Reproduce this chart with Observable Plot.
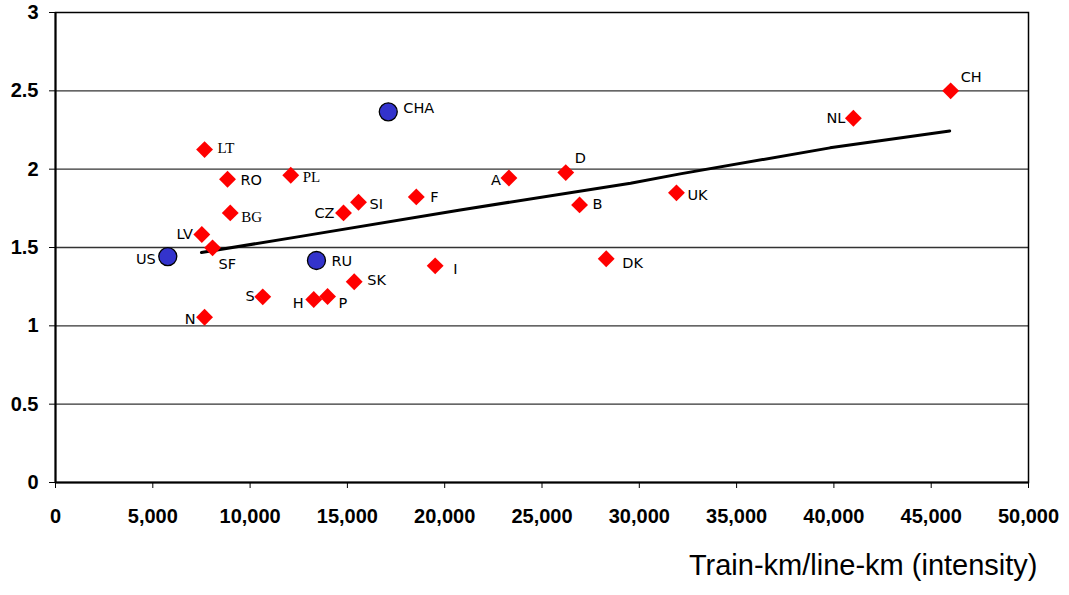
<!DOCTYPE html>
<html>
<head>
<meta charset="utf-8">
<script src="https://cdn.jsdelivr.net/npm/d3@7"></script>
<script src="https://cdn.jsdelivr.net/npm/@observablehq/plot@0.6"></script>
<style>
  html, body { margin: 0; padding: 0; background: #fff; }
  #chart svg { display: block; }
</style>
</head>
<body>
<div id="chart"></div>
<script>
// ---- data ----
const countries = ["CH","NL","LT","RO","PL","BG","SI","CZ","F","A","D","B","UK","DK","I","LV","SF","SK","S","H","P","N"];
const intensity = [46000,41000,7660,8840,12090,8980,15570,14800,18540,23300,26220,26930,31910,28300,19510,7520,8070,15350,10650,13270,13980,7660];
const values    = [2.50,2.325,2.125,1.936,1.961,1.721,1.789,1.721,1.823,1.944,1.978,1.772,1.849,1.428,1.383,1.583,1.498,1.281,1.185,1.168,1.187,1.055];

const refCountries = ["CHA","US","RU"];
const refIntensity = [17100,5770,13410];
const refValues    = [2.366,1.442,1.417];

const trendX = [7500,12600,20800,29550,32100,39800,45950];
const trendY = [1.468,1.571,1.740,1.910,1.970,2.136,2.244];

const yTicks = [0,0.5,1,1.5,2,2.5,3];
const xTicks = [0,5000,10000,15000,20000,25000,30000,35000,40000,45000,50000];
const xTitle = "Train-km/line-km (intensity)";

// ---- layout (label placement, not data) ----
const labelPos = {
  CH:[10,-13,"start"], NL:[-8,0,"end"], CHA:[15,-3,"start"], LT:[13,-1,"start"],
  RO:[13,1,"start"], PL:[12,2,"start"], BG:[11,4,"start"], SI:[11,2,"start"],
  CZ:[-9,0,"end"], F:[14,0,"start"], A:[-8,2,"end"], D:[9,-14,"start"],
  B:[13,-1,"start"], UK:[11,3,"start"], DK:[16,5,"start"], I:[18,4,"start"],
  LV:[-9,0,"end"], SF:[6,17,"start"], SK:[13,-1,"start"], S:[-8,0,"end"],
  H:[-10,4,"end"], P:[11,7,"start"], N:[-9,2,"end"], US:[-12,3,"end"], RU:[15,1,"start"]
};
const serifLabels = new Set(["LT","PL","BG"]);

const pts = countries.map((c,i) => ({name:c, x:intensity[i], y:values[i]}));
const refs = refCountries.map((c,i) => ({name:c, x:refIntensity[i], y:refValues[i]}));
const trend = trendX.map((x,i) => ({x, y:trendY[i]}));
const all = pts.concat(refs);

const labelMarks = all.map(d => {
  const [dx, dy, anchor] = labelPos[d.name];
  return Plot.text([d], {
    x:"x", y:"y", text:"name", dx, dy, textAnchor:anchor,
    fontSize: serifLabels.has(d.name) ? 15 : 14.5,
    fontFamily: serifLabels.has(d.name) ? "Liberation Serif" : "DejaVu Sans",
    fill:"black"
  });
});

const chart = Plot.plot({
  width: 1069,
  height: 595,
  marginLeft: 55,
  marginRight: 41,
  marginTop: 12,
  marginBottom: 113,
  style: {fontFamily: "Liberation Sans, Arial, sans-serif", color: "black", background: "white"},
  x: {domain:[0,50000], label:null},
  y: {domain:[0,3], label:null},
  marks: [
    Plot.ruleY(yTicks.filter(v => v > 0 && v < 3), {stroke:"#333", strokeWidth:1.3}),
    Plot.frame({stroke:"black", strokeWidth:1.5}),
    Plot.ruleX([0], {stroke:"black", strokeWidth:2}),
    Plot.ruleY([0], {stroke:"black", strokeWidth:2}),
    Plot.axisY({ticks:yTicks, tickSize:6, tickPadding:11, fontSize:20, fontWeight:"bold", label:null, tickFormat:d => String(d)}),
    Plot.axisX({ticks:xTicks, tickSize:6, tickPadding:20, fontSize:20, fontWeight:"bold", label:null, tickFormat:d3.format(",")}),
    Plot.line(trend, {x:"x", y:"y", stroke:"black", strokeWidth:3}),
    Plot.dot(pts, {x:"x", y:"y", symbol:"diamond2", r:7.6, fill:"#FF0000", stroke:"none"}),
    Plot.dot(refs, {x:"x", y:"y", r:9, fill:"#3333CC", stroke:"black", strokeWidth:1.3}),
    ...labelMarks,
    Plot.text([xTitle], {frameAnchor:"bottom-right", text:d => d, dx:9, dy:92, fontSize:29, textAnchor:"end", fill:"black"})
  ]
});
document.getElementById("chart").append(chart);
</script>
</body>
</html>
